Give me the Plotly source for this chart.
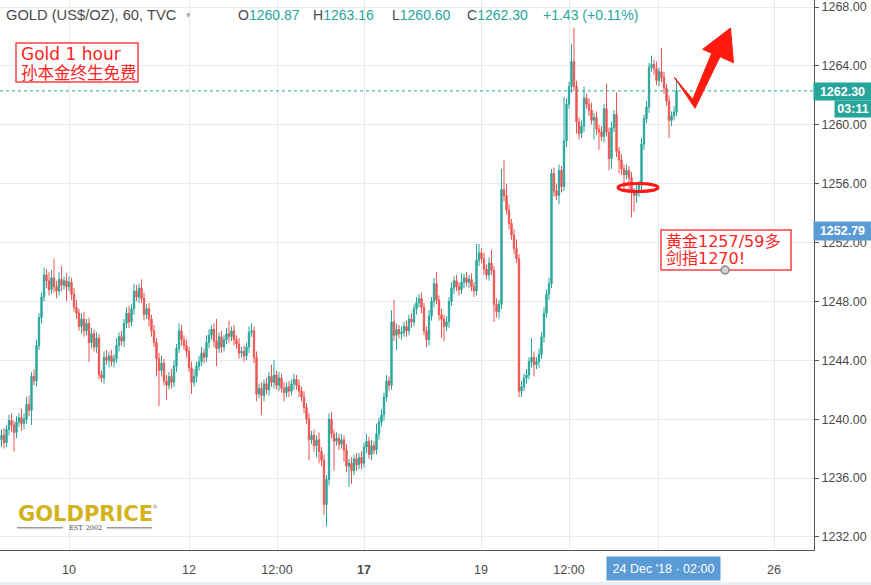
import plotly.graph_objects as go

# ---------------- data ----------------
first_open = 1238.6
closes = [
    1238.9, 1238.4, 1239.3, 1239.9, 1239.6, 1239.1, 1239.8, 1240.1, 1239.7, 1240.0,
    1241.0, 1240.6, 1242.9, 1242.6, 1245.0, 1246.9, 1248.3, 1249.8, 1249.4, 1248.8,
    1249.6, 1249.0, 1248.7, 1249.5, 1249.1, 1249.4, 1249.0, 1249.3, 1248.5, 1247.6,
    1247.2, 1246.3, 1246.8, 1246.0, 1246.5, 1245.2, 1245.8, 1244.9, 1245.5, 1243.0,
    1242.8, 1244.2, 1244.0, 1244.3, 1243.9, 1244.1, 1245.0, 1245.6, 1245.3, 1246.5,
    1247.2, 1246.6, 1247.5, 1248.7, 1248.3, 1248.9, 1248.2, 1247.1, 1247.5, 1246.8,
    1246.0, 1245.2, 1244.1, 1243.3, 1243.8, 1242.6, 1242.3, 1242.9, 1242.5, 1243.6,
    1244.8, 1246.0, 1245.4, 1245.0, 1244.6, 1243.5, 1242.5, 1242.9, 1243.6, 1243.9,
    1244.5, 1244.2, 1245.2, 1245.7, 1246.1, 1245.3, 1244.8, 1245.6, 1244.9, 1245.4,
    1245.8, 1245.6, 1246.0, 1245.4, 1245.1, 1244.5, 1244.6, 1244.3, 1244.9, 1245.9,
    1246.0, 1244.2, 1241.7, 1242.1, 1241.6, 1242.4, 1242.0, 1242.9, 1242.5, 1243.0,
    1242.3, 1242.8, 1242.1, 1241.8, 1242.2, 1241.9, 1242.4, 1242.7, 1242.3, 1241.9,
    1241.5, 1240.8, 1240.0, 1238.6, 1238.9, 1238.2, 1238.6, 1237.8, 1237.2, 1234.2,
    1235.9, 1240.0, 1239.0, 1238.5, 1238.7, 1238.3, 1238.6, 1237.9, 1236.8, 1237.0,
    1236.5, 1237.3, 1236.9, 1237.4, 1237.0, 1238.1, 1238.5, 1237.6, 1238.2, 1237.9,
    1239.0, 1239.8, 1240.3, 1241.5, 1242.6, 1242.3, 1246.6, 1245.7, 1246.1, 1245.8,
    1245.9, 1246.3, 1246.0, 1246.8, 1246.6, 1247.5, 1247.9, 1248.2, 1247.6, 1246.0,
    1245.4, 1247.0, 1248.0, 1249.2, 1248.1, 1247.1, 1246.8, 1246.3, 1246.6, 1248.0,
    1248.9, 1249.4, 1249.0, 1248.8, 1249.3, 1249.6, 1249.3, 1249.5, 1249.0, 1248.7,
    1250.8, 1251.3, 1250.9, 1250.2, 1249.8, 1250.6, 1250.1, 1247.8, 1247.3, 1247.8,
    1255.6, 1255.2, 1254.2, 1253.3, 1252.5, 1251.6, 1250.9, 1241.9, 1242.2, 1242.8,
    1243.0, 1243.9, 1244.2, 1243.7, 1243.9, 1244.4, 1245.6, 1247.2, 1248.5, 1249.2,
    1256.7, 1255.5, 1255.2, 1256.9, 1255.8, 1258.9, 1261.4, 1262.6, 1264.3, 1262.6,
    1260.2, 1259.4, 1259.9, 1261.8, 1261.4, 1261.0, 1260.3, 1260.5, 1259.7, 1259.5,
    1259.2, 1261.1, 1259.5, 1257.7, 1259.8, 1260.7, 1258.2, 1257.6, 1257.0, 1256.6,
    1256.9, 1256.4, 1255.4, 1255.2, 1255.5, 1255.9, 1258.7, 1260.4, 1261.2, 1263.9,
    1264.1, 1263.8, 1263.0, 1263.6, 1263.2, 1262.5, 1261.6, 1260.3, 1260.6, 1260.87, 1262.30,
]
up_wick = [
    0.4, 0.5, 0.3, 0.4, 0.5, 0.3, 0.4, 0.3, 0.6, 0.4,
    0.5, 0.6, 0.3, 0.5, 0.4, 0.3, 0.3, 0.5, 0.4, 0.6,
    0.5, 1.3, 0.4, 0.5, 0.9, 0.3, 0.5, 0.4, 0.3, 0.4,
    0.5, 0.3, 0.4, 0.5, 0.3, 0.4, 0.4, 0.3, 0.4, 0.3,
    0.3, 0.4, 0.5, 0.3, 0.4, 0.3, 0.5, 0.3, 0.4, 0.3,
    0.4, 0.5, 0.3, 0.5, 0.4, 0.3, 0.6, 0.4, 0.3, 0.4,
    0.3, 0.4, 0.3, 0.4, 0.5, 0.3, 0.4, 0.3, 0.5, 0.4,
    0.3, 0.5, 0.4, 0.3, 0.4, 0.3, 0.4, 0.5, 0.3, 0.4,
    0.4, 0.3, 0.5, 0.4, 0.3, 0.4, 1.5, 0.3, 0.4, 0.3,
    0.4, 0.9, 0.3, 0.4, 0.3, 0.4, 0.3, 0.4, 0.3, 0.4,
    0.5, 0.3, 0.4, 0.3, 0.4, 0.3, 0.4, 0.3, 0.8, 1.0,
    0.3, 0.4, 0.3, 0.4, 0.3, 0.4, 0.3, 0.4, 0.3, 0.4,
    0.3, 0.4, 0.3, 0.4, 0.3, 0.4, 0.3, 0.5, 0.3, 0.4,
    0.3, 0.4, 0.5, 0.3, 0.4, 0.3, 0.4, 0.3, 0.4, 0.3,
    0.4, 0.3, 0.4, 0.3, 0.4, 0.3, 0.5, 0.3, 0.4, 0.3,
    0.7, 0.3, 0.4, 0.3, 0.4, 0.3, 0.8, 1.5, 0.4, 0.3,
    0.4, 0.3, 0.4, 0.3, 0.4, 0.3, 0.4, 0.3, 0.4, 0.3,
    0.3, 0.4, 0.3, 0.4, 0.8, 0.3, 0.4, 0.3, 0.4, 0.3,
    0.4, 0.3, 0.4, 0.3, 0.6, 0.3, 0.4, 0.3, 0.4, 0.3,
    1.1, 0.6, 0.3, 0.4, 0.3, 0.4, 0.9, 0.3, 0.4, 0.3,
    1.4, 2.0, 0.8, 0.4, 0.3, 0.4, 0.6, 0.3, 0.4, 0.3,
    0.4, 0.3, 1.3, 0.4, 0.3, 0.4, 0.3, 0.4, 0.3, 0.4,
    0.3, 0.4, 0.5, 0.4, 0.3, 3.0, 0.4, 0.3, 1.2, 2.3,
    0.4, 0.3, 0.4, 0.8, 0.3, 0.4, 0.5, 0.3, 0.4, 0.3,
    0.4, 0.3, 1.7, 0.3, 0.4, 0.3, 1.5, 0.3, 0.4, 0.3,
    0.4, 0.3, 0.4, 0.3, 0.4, 0.3, 0.4, 0.3, 0.4, 0.3,
    0.6, 0.3, 0.5, 0.3, 1.6, 0.4, 0.3, 0.4, 0.3, 0.4, 0.86,
]
down_wick = [
    0.5, 0.4, 0.3, 0.4, 0.5, 1.3, 0.4, 0.3, 0.5, 0.4,
    0.3, 0.4, 1.0, 0.3, 0.4, 0.3, 0.4, 0.3, 0.5, 0.4,
    0.3, 0.4, 0.5, 0.3, 0.4, 0.3, 1.0, 0.3, 0.4, 0.3,
    0.4, 0.3, 0.5, 0.4, 0.3, 1.3, 0.4, 0.3, 0.4, 0.3,
    0.3, 0.4, 0.3, 0.5, 0.3, 0.4, 0.3, 0.4, 0.3, 0.4,
    0.3, 0.4, 0.3, 0.4, 0.3, 0.4, 0.3, 0.4, 0.3, 0.5,
    0.4, 0.3, 1.2, 2.4, 0.4, 0.3, 1.0, 0.3, 0.4, 0.3,
    0.4, 0.3, 0.4, 0.3, 0.4, 0.3, 0.8, 0.3, 0.4, 0.3,
    0.3, 0.4, 0.3, 0.4, 0.3, 0.4, 1.2, 0.3, 0.4, 0.3,
    0.3, 0.4, 0.3, 0.4, 0.3, 0.4, 0.3, 0.4, 0.3, 0.4,
    0.3, 0.4, 0.5, 0.3, 1.3, 0.4, 0.3, 0.4, 0.3, 0.4,
    0.3, 0.4, 0.3, 0.6, 0.3, 0.4, 0.3, 0.4, 0.3, 0.4,
    0.3, 0.4, 0.3, 1.4, 0.3, 0.4, 0.8, 0.8, 0.4, 0.7,
    1.5, 0.4, 0.3, 2.0, 0.3, 0.4, 0.3, 0.8, 0.4, 1.4,
    0.9, 0.3, 0.4, 0.3, 0.4, 0.3, 0.4, 0.3, 0.4, 0.3,
    0.3, 0.4, 0.3, 0.4, 0.3, 0.4, 0.3, 0.4, 1.0, 0.3,
    0.4, 0.3, 0.4, 0.3, 0.4, 0.3, 0.4, 0.3, 0.4, 0.3,
    0.5, 0.4, 0.3, 0.4, 0.3, 0.4, 1.3, 1.0, 0.3, 0.4,
    0.3, 0.4, 0.3, 0.4, 0.3, 0.4, 0.3, 0.4, 0.3, 0.4,
    0.3, 0.4, 0.3, 0.4, 0.3, 0.4, 0.3, 1.2, 0.4, 0.5,
    0.3, 0.4, 0.3, 0.4, 0.3, 0.4, 0.3, 0.4, 0.4, 0.3,
    0.4, 0.3, 0.4, 0.8, 0.3, 0.4, 0.3, 0.4, 0.3, 0.4,
    0.3, 0.4, 0.3, 0.6, 0.4, 0.3, 0.4, 0.3, 0.4, 0.3,
    0.8, 0.4, 0.3, 0.4, 0.3, 0.4, 0.3, 1.3, 0.4, 1.2,
    0.3, 0.4, 0.3, 0.8, 0.7, 0.3, 0.4, 0.9, 0.4, 1.0,
    0.3, 0.8, 1.7, 1.1, 0.5, 0.4, 0.3, 0.4, 0.3, 0.4,
    0.3, 0.4, 0.3, 0.4, 0.3, 0.4, 0.3, 1.2, 0.4, 0.3, 0.27,
]

x_tick_pos = [27, 75, 110.2, 145, 191.8, 227, 262.6, 309]
x_tick_text = ["10", "12", "12:00", "<b>17</b>", "19", "12:00", "", "26"]
y_ticks = [1232, 1236, 1240, 1244, 1248, 1252, 1256, 1260, 1264, 1268]

symbol_text = "GOLD (US$/OZ), 60, TVC"
crosshair_price = 1252.79
crosshair_time = "24 Dec '18 · 02:00"
countdown = "03:11"
note1 = ["Gold 1 hour", "孙本金终生免费"]
note2 = ["黄金1257/59多", "剑指1270!"]

# ---------------- derived OHLC ----------------
opens = [first_open] + closes[:-1]
highs = [round(max(o, c) + u, 2) for o, c, u in zip(opens, closes, up_wick)]
lows = [round(min(o, c) - d, 2) for o, c, d in zip(opens, closes, down_wick)]
idx = list(range(len(closes)))

UP = "#26a69a"
DN = "#ef5350"
BLUE = "#5b9bd5"
RED = "#ff2222"

W, H = 871, 585
PLOT_W, PLOT_H = 814, 550


def PX(px):
    return px / PLOT_W


def PY(py):
    return (PLOT_H - py) / PLOT_H


fig = go.Figure()
fig.add_trace(go.Candlestick(
    x=idx, open=opens, high=highs, low=lows, close=closes,
    increasing=dict(line=dict(color=UP, width=1), fillcolor=UP),
    decreasing=dict(line=dict(color=DN, width=1), fillcolor=DN),
    whiskerwidth=0, hoverinfo="skip", showlegend=False,
))

last_o, last_h, last_l, last_c = opens[-1], highs[-1], lows[-1], closes[-1]
chg = last_c - last_o
pct = chg / last_o * 100

shapes = []
# last price dotted line
shapes.append(dict(type="line", xref="paper", yref="y", x0=0, x1=1, y0=last_c, y1=last_c,
                   line=dict(color=UP, width=1, dash="dot"), layer="above"))
# note boxes
shapes.append(dict(type="rect", xref="paper", yref="paper", x0=PX(16), x1=PX(138), y0=PY(82), y1=PY(43),
                   line=dict(color="#ff4040", width=1.5), fillcolor="white", layer="above"))
shapes.append(dict(type="rect", xref="paper", yref="paper", x0=PX(661), x1=PX(791), y0=PY(270), y1=PY(230),
                   line=dict(color="#ff4040", width=1.5), fillcolor="white", layer="above"))
# grey handle dot
shapes.append(dict(type="circle", xref="paper", yref="paper", x0=PX(721), x1=PX(729), y0=PY(274), y1=PY(266),
                   line=dict(color="#888888", width=1.5), fillcolor="#d0d0d0", layer="above"))
# red ellipse
shapes.append(dict(type="circle", xref="paper", yref="paper", x0=PX(618), x1=PX(658), y0=PY(191.5), y1=PY(183.5),
                   line=dict(color="#ff1a1a", width=3), layer="above"))
# red zig-zag arrow
arrow_pts = [(674.3, 77.3), (692.7, 99.3), (711.7, 53.3), (702.7, 49.3), (730.5, 28.0),
             (733.5, 62.7), (720.0, 56.7), (695.0, 108.3)]
path = "M " + " L ".join(f"{PX(a):.5f},{PY(b):.5f}" for a, b in arrow_pts) + " Z"
shapes.append(dict(type="path", xref="paper", yref="paper", path=path,
                   fillcolor="#ff1a0f", line=dict(color="#ff1a0f", width=1), layer="above"))
# logo lines
shapes.append(dict(type="line", xref="paper", yref="paper", x0=PX(17), x1=PX(63), y0=PY(527.7), y1=PY(527.7),
                   line=dict(color="#9a9a9a", width=1.5)))
shapes.append(dict(type="line", xref="paper", yref="paper", x0=PX(107), x1=PX(152), y0=PY(527.7), y1=PY(527.7),
                   line=dict(color="#9a9a9a", width=1.5)))
# bottom strip
shapes.append(dict(type="rect", xref="paper", yref="paper", x0=0, x1=W / PLOT_W, y0=PY(585), y1=PY(582),
                   fillcolor="#eceff2", line=dict(width=0)))

ann = []
hdr_font = dict(family="Liberation Sans, Arial, sans-serif", size=14, color="#4a4a4a")
title_font = dict(family="Liberation Sans, Arial, sans-serif", size=14.7, color="#4a4a4a")


def txt(x, y, t, font, xanchor="left", **kw):
    ann.append(dict(x=PX(x), y=PY(y), xref="paper", yref="paper", text=t, showarrow=False,
                    xanchor=xanchor, yanchor="middle", font=font, **kw))


def val(v):
    return f'<span style="color:{UP}">{v}</span>'


txt(4, 15, symbol_text, title_font)
txt(184, 15, "▾", dict(family="DejaVu Sans", size=9, color="#aaaaaa"))
txt(236, 15, "O" + val(f"{last_o:.2f}"), hdr_font)
txt(311, 15, "H" + val(f"{last_h:.2f}"), hdr_font)
txt(390, 15, "L" + val(f"{last_l:.2f}"), hdr_font)
txt(465, 15, "C" + val(f"{last_c:.2f}"), hdr_font)
txt(541, 15, val(f"{chg:+.2f} ({pct:+.2f}%)"), hdr_font)

note_font = dict(family="DejaVu Sans, Noto Sans CJK SC, sans-serif", size=17, color=RED)
note_font_cjk = dict(family="Noto Sans CJK SC, sans-serif", size=16.5, color=RED)
txt(19, 54, note1[0], note_font)
txt(19, 72, note1[1], note_font_cjk)
txt(664, 241, note2[0], dict(family="DejaVu Sans, Noto Sans CJK SC, sans-serif", size=16, color=RED))
txt(664, 258.5, note2[1], dict(family="DejaVu Sans, Noto Sans CJK SC, sans-serif", size=16, color=RED))

# logo
txt(85, 514, "<b>GOLDPRICE</b>", dict(family="DejaVu Sans", size=21, color="#d4b21c"), xanchor="center")
txt(155, 506, "®", dict(family="DejaVu Sans", size=6, color="#888888"), xanchor="center")
txt(85, 528, "EST. 2002", dict(family="DejaVu Serif", size=6.5, color="#444444"), xanchor="center")

# price / time labels
lab_font = dict(family="Liberation Sans, Arial, sans-serif", size=12.5, color="white")
ann.append(dict(x=PX(842.5), y=PY(91.5), xref="paper", yref="paper", text=f"<b>{last_c:.2f}</b>",
                showarrow=False, xanchor="center", yanchor="middle", width=57, height=17,
                bgcolor=UP, borderpad=0, font=lab_font))
ann.append(dict(x=PX(853), y=PY(109), xref="paper", yref="paper", text=f"<b>{countdown}</b>",
                showarrow=False, xanchor="center", yanchor="middle", width=36, height=16,
                bgcolor=UP, borderpad=0, font=lab_font))
ann.append(dict(x=PX(842.5), y=PY(231), xref="paper", yref="paper", text=f"<b>{crosshair_price:.2f}</b>",
                showarrow=False, xanchor="center", yanchor="middle", width=57, height=18,
                bgcolor=BLUE, borderpad=0, font=lab_font))
ann.append(dict(x=PX(663.5), y=PY(568.5), xref="paper", yref="paper", text=crosshair_time,
                showarrow=False, xanchor="center", yanchor="middle", width=113, height=23,
                bgcolor=BLUE, borderpad=0, font=lab_font))

GRID = "#e6ebf1"
fig.update_layout(
    width=W, height=H, autosize=False,
    margin=dict(l=0, r=W - PLOT_W, t=0, b=H - PLOT_H, pad=0),
    paper_bgcolor="white", plot_bgcolor="white",
    font=dict(family="Liberation Sans, Arial, sans-serif", size=12.5, color="#4a4a4a"),
    boxgap=0.25,
    shapes=shapes, annotations=ann,
    xaxis=dict(range=[-0.6, 325.0], tickmode="array", tickvals=x_tick_pos, ticktext=x_tick_text,
               showgrid=True, gridcolor=GRID, gridwidth=1, zeroline=False,
               showline=True, linecolor="#555555", linewidth=1, ticks="", ticklabelstandoff=8,
               rangeslider=dict(visible=False), fixedrange=True,
               tickfont=dict(size=12.5, color="#4a4a4a")),
    yaxis=dict(side="right", range=[1231.11, 1268.476], tickmode="array", tickvals=y_ticks,
               ticktext=[f"{v:.2f}" for v in y_ticks],
               showgrid=True, gridcolor=GRID, gridwidth=1, zeroline=False,
               showline=True, linecolor="#555555", linewidth=1, ticks="outside", ticklen=4,
               tickcolor="#555555", fixedrange=True,
               tickfont=dict(size=12.5, color="#4a4a4a")),
)

fig.write_html("out.html", config={"displayModeBar": False, "staticPlot": True},
               post_script="document.body.style.margin='0';document.body.style.overflow='hidden';")
